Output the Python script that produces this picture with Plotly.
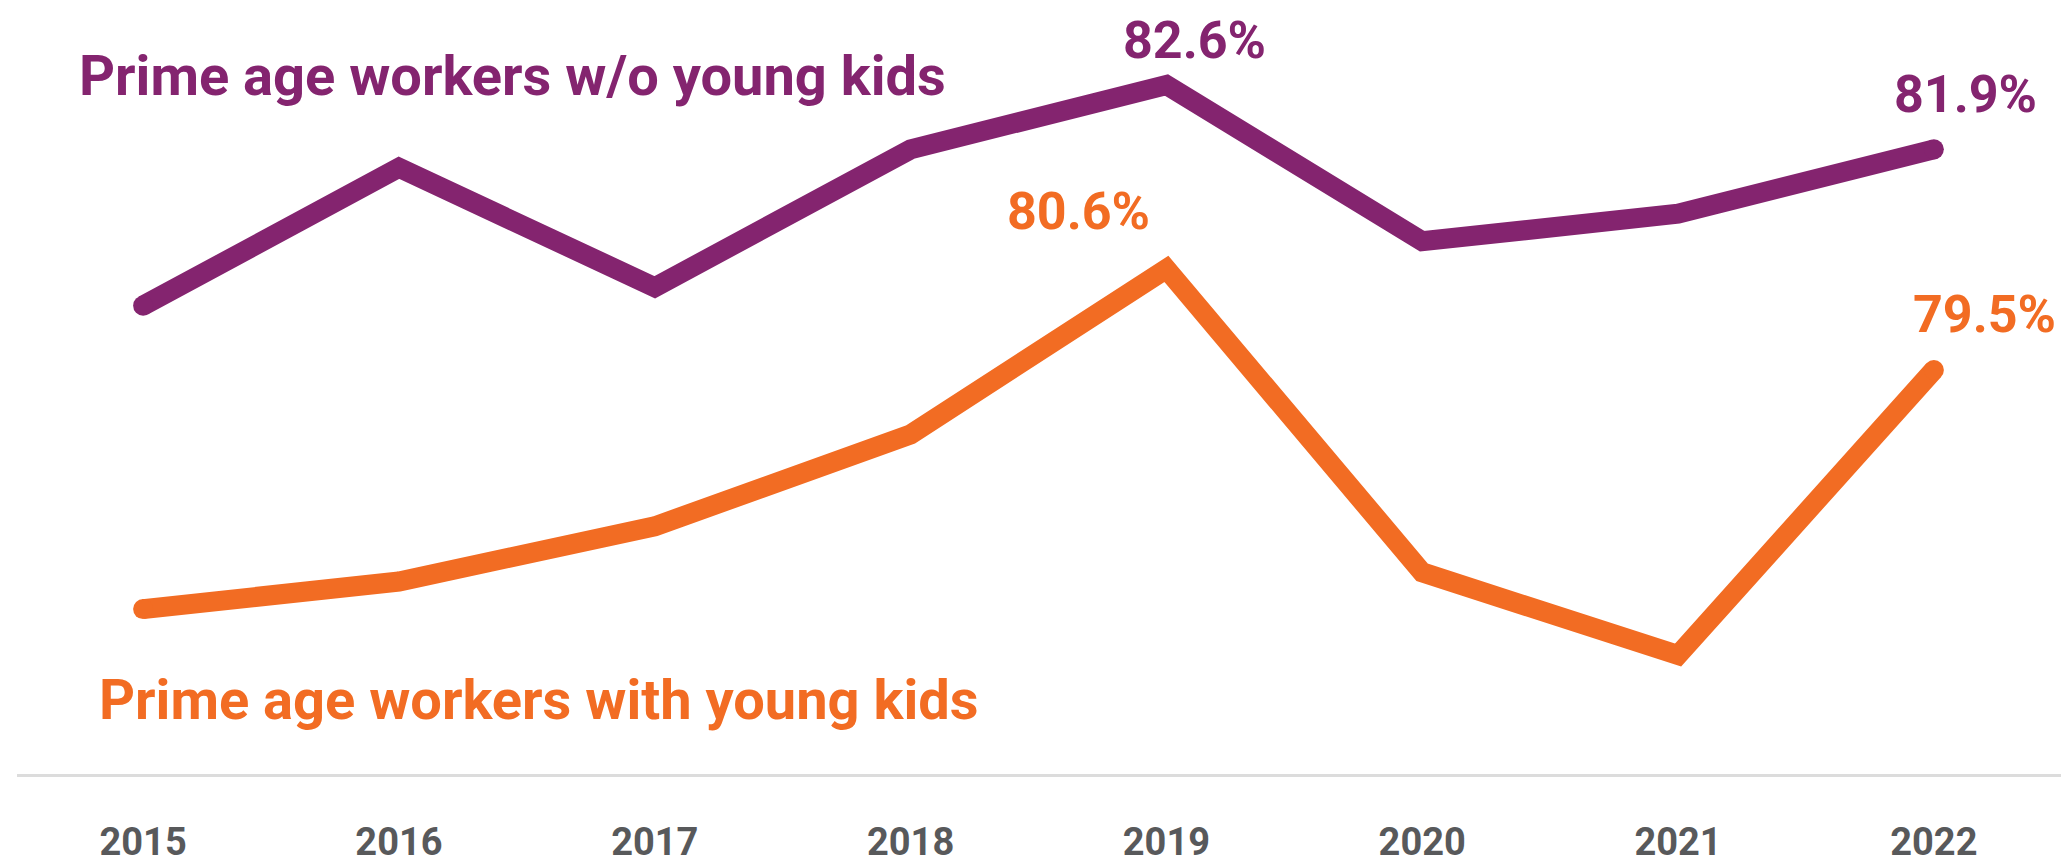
import plotly.graph_objects as go

years = [2015, 2016, 2017, 2018, 2019, 2020, 2021, 2022]
year_labels = ["2015", "2016", "2017", "2018", "2019", "2020", "2021", "2022"]
without_kids = [80.2, 81.7, 80.4, 81.9, 82.6, 80.9, 81.2, 81.9]
with_kids = [76.9, 77.2, 77.8, 78.8, 80.6, 77.3, 76.4, 79.5]

name_without = "Prime age workers w/o young kids"
name_with = "Prime age workers with young kids"

PURPLE = "#84246F"
ORANGE = "#F26C23"
GRAY = "#58595B"
FONT = "Roboto"
LW = 20

fig = go.Figure()

for vals, color, name in [(without_kids, PURPLE, name_without), (with_kids, ORANGE, name_with)]:
    fig.add_trace(go.Scatter(
        x=years, y=vals, mode="lines", name=name,
        line=dict(color=color, width=LW),
        hoverinfo="x+y", showlegend=False,
    ))
    # round end caps
    fig.add_trace(go.Scatter(
        x=[years[0], years[-1]], y=[vals[0], vals[-1]], mode="markers",
        marker=dict(color=color, size=LW, line=dict(width=0)),
        hoverinfo="skip", showlegend=False,
    ))

def value_label(x, v, color, xs, ys):
    fig.add_annotation(
        x=x, y=v, xref="x", yref="y", text=f"{v:.1f}%", showarrow=False,
        xanchor="center", yanchor="middle", xshift=xs, yshift=ys,
        font=dict(family=FONT, size=52, color=color, weight="bold"),
    )

value_label(years[4], without_kids[4], PURPLE, 28, 44)
value_label(years[-1], without_kids[-1], PURPLE, 32, 55)
value_label(years[4], with_kids[4], ORANGE, -88, 57)
value_label(years[-1], with_kids[-1], ORANGE, 51, 56)

fig.add_annotation(
    x=0.0294, y=0.902, xref="paper", yref="paper", text=name_without,
    showarrow=False, xanchor="left", yanchor="middle",
    font=dict(family=FONT, size=56, color=PURPLE, weight="bold"),
)
fig.add_annotation(
    x=0.0391, y=0.095, xref="paper", yref="paper", text=name_with,
    showarrow=False, xanchor="left", yanchor="middle",
    font=dict(family=FONT, size=56, color=ORANGE, weight="bold"),
)

fig.update_xaxes(
    range=[2014.507, 2022.497],
    tickvals=years, ticktext=year_labels,
    showgrid=False, zeroline=False,
    showline=True, linecolor="#DCDCDC", linewidth=3,
    ticks="", ticklabelstandoff=32,
    tickfont=dict(family=FONT, size=38, color=GRAY, weight="bold"),
)
fig.update_yaxes(
    range=[75.107, 83.524],
    visible=False, showgrid=False, zeroline=False,
)

fig.update_layout(
    width=2061, height=864,
    margin=dict(l=17, r=0, t=0, b=77, pad=0),
    paper_bgcolor="white", plot_bgcolor="white",
    showlegend=False,
)

fig.write_html("out.html")
